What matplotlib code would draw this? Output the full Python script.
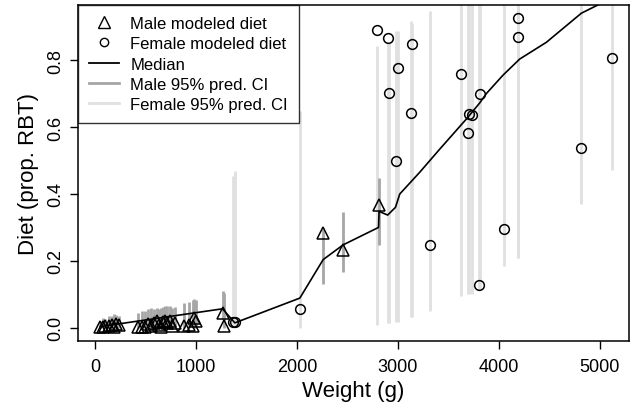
import matplotlib
matplotlib.use("Agg")
import matplotlib.pyplot as plt
from matplotlib.lines import Line2D

plt.rcParams['font.family'] = ['Liberation Sans', 'DejaVu Sans']

# Male modeled diet: weight, value, CI low, CI high
male_w = [55, 80, 100, 140, 165, 185, 210, 235,
          430, 465, 500, 530, 555, 585, 610, 630, 650, 670, 690, 710, 740, 760, 790,
          880, 930, 967, 980, 1000, 1264, 1280, 2261, 2459, 2815]
male_v = [0.003, 0.004, 0.006, 0.005, 0.010, 0.004, 0.012, 0.008,
          0.003, 0.004, 0.003, 0.012, 0.006, 0.015, 0.020, 0.010, 0.004, 0.018, 0.022, 0.015, 0.020, 0.005, 0.015,
          0.005, 0.010, 0.005, 0.030, 0.020, 0.045, 0.005, 0.284, 0.233, 0.368]
male_lo = [0.0, 0.0, 0.0, 0.0, 0.0, 0.0, 0.0, 0.0,
           0.0, 0.0, 0.0, 0.0, 0.0, 0.0, 0.0, 0.0, 0.0, 0.0, 0.0, 0.0, 0.0, 0.0, 0.0,
           0.0, 0.0, 0.0, 0.0, 0.0, 0.027, 0.0, 0.131, 0.168, 0.248]
male_hi = [0.020, 0.030, 0.028, 0.035, 0.036, 0.040, 0.038, 0.035,
           0.045, 0.050, 0.050, 0.055, 0.060, 0.056, 0.060, 0.055, 0.060, 0.062, 0.065, 0.064, 0.066, 0.060, 0.062,
           0.075, 0.078, 0.084, 0.085, 0.084, 0.111, 0.105, 0.295, 0.345, 0.447]

# Female modeled diet
fem_w = [1370, 1386, 2030, 2799, 2904, 2910, 2983, 3007, 3132, 3145, 3320,
         3627, 3700, 3706, 3739, 3805, 3819, 4056, 4188, 4195, 4819, 5119]
fem_v = [0.019, 0.019, 0.055, 0.890, 0.865, 0.701, 0.498, 0.777, 0.643, 0.849, 0.247,
         0.759, 0.582, 0.638, 0.636, 0.127, 0.699, 0.296, 0.925, 0.869, 0.536, 0.807]
fem_lo = [0.007, 0.007, 0.0, 0.010, 0.015, 0.015, 0.019, 0.019, 0.033, 0.033, 0.050,
          0.095, 0.100, 0.100, 0.100, 0.116, 0.116, 0.184, 0.209, 0.209, 0.370, 0.472]
fem_hi = [0.455, 0.470, 0.648, 0.843, 0.853, 0.850, 0.888, 0.888, 0.917, 0.910, 0.947,
          1.0, 1.0, 1.0, 1.0, 1.0, 1.0, 1.0, 1.0, 1.0, 1.0, 1.0]

# Median curve
med_w = [55, 1264, 1386, 2030, 2261, 2459, 2809, 2815, 2900, 2977, 3020, 3218,
         3416, 3680, 3812, 3878, 4043, 4208, 4472, 4819, 5119]
med_v = [0.004, 0.057, 0.015, 0.089, 0.204, 0.248, 0.300, 0.348, 0.337, 0.360, 0.400, 0.465,
         0.534, 0.624, 0.672, 0.700, 0.755, 0.803, 0.853, 0.940, 0.985]

male_ci_col = '#a6a6a6'
fem_ci_col = '#e0e0e0'

fig = plt.figure(figsize=(6.34, 4.10), dpi=100)
ax = fig.add_axes([0.123, 0.166, 0.869, 0.819])

ax.vlines(fem_w, fem_lo, fem_hi, colors=fem_ci_col, linewidth=2.0, zorder=1)
ax.vlines(male_w, male_lo, male_hi, colors=male_ci_col, linewidth=2.0, zorder=2)
ax.plot(med_w, med_v, color='black', linewidth=1.2, zorder=3)
ax.plot(male_w, male_v, linestyle='none', marker='^', markersize=9,
        markerfacecolor='none', markeredgecolor='black', markeredgewidth=1.1, zorder=4)
ax.plot(fem_w, fem_v, linestyle='none', marker='o', markersize=7,
        markerfacecolor='none', markeredgecolor='black', markeredgewidth=1.1, zorder=4)

ax.set_xlim(-168, 5290)
ax.set_ylim(-0.039, 0.964)
ax.set_xticks([0, 1000, 2000, 3000, 4000, 5000])
ax.set_yticks([0.0, 0.2, 0.4, 0.6, 0.8])
ax.set_yticklabels(['0.0', '0.2', '0.4', '0.6', '0.8'], rotation=90, va='center')
ax.tick_params(direction='out', length=6, width=1, labelsize=13, colors='black')
ax.tick_params(axis='y', pad=4)
ax.tick_params(axis='x', pad=6)
for s in ax.spines.values():
    s.set_linewidth(1.1)
ax.set_xlabel('Weight (g)', fontsize=16, labelpad=4)
ax.set_ylabel('Diet (prop. RBT)', fontsize=16, labelpad=6)

handles = [
    Line2D([], [], linestyle='none', marker='^', markersize=8, markerfacecolor='none',
           markeredgecolor='black', markeredgewidth=1.0),
    Line2D([], [], linestyle='none', marker='o', markersize=6, markerfacecolor='none',
           markeredgecolor='black', markeredgewidth=1.0),
    Line2D([], [], color='black', linewidth=1.3),
    Line2D([], [], color=male_ci_col, linewidth=2.0),
    Line2D([], [], color=fem_ci_col, linewidth=2.0),
]
labels = ['Male modeled diet', 'Female modeled diet', 'Median',
          'Male 95% pred. CI', 'Female 95% pred. CI']
leg = ax.legend(handles, labels, loc='upper left', borderaxespad=0, fontsize=12,
                frameon=True, fancybox=False, edgecolor='black', handlelength=1.8,
                handletextpad=0.7, labelspacing=0.32, borderpad=0.65)
leg.get_frame().set_linewidth(1.0)

fig.savefig('out.png', dpi=100)
